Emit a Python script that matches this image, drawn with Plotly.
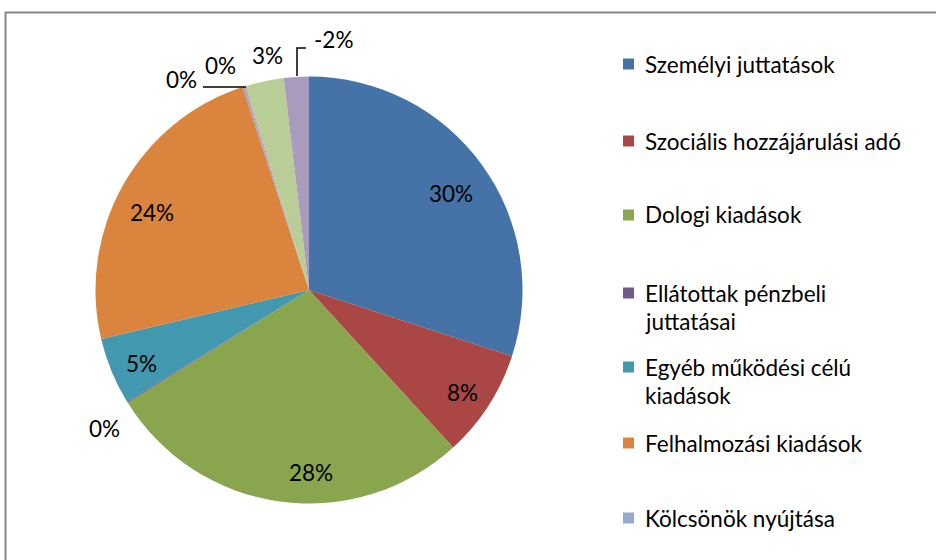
import math
import plotly.graph_objects as go

# ---------------- data ----------------
categories = [
    "Személyi juttatások",
    "Szociális hozzájárulási adó",
    "Dologi kiadások",
    "Ellátottak pénzbeli juttatásai",
    "Egyéb működési célú kiadások",
    "Felhalmozási kiadások",
    "Kölcsönök nyújtása",
    "Tartalékok",
    "Finanszírozási kiadások",
    "Függő tételek",
]
shares = [30.1, 8.2, 28.0, 0.1, 5.1, 23.7, 0.15, 0.1, 2.9, -1.9]
legend_labels = [
    "Személyi juttatások",
    "Szociális hozzájárulási adó",
    "Dologi kiadások",
    "Ellátottak pénzbeli<br>juttatásai",
    "Egyéb működési célú<br>kiadások",
    "Felhalmozási kiadások",
    "Kölcsönök nyújtása",
]

# ---------------- style ----------------
colors = ["#4572A7", "#AA4643", "#89A54E", "#71588F", "#4198AF",
          "#DB843D", "#93A9CF", "#D19392", "#B9CD96", "#A99BBD"]
W, H = 936, 560
CX, CY, R = 309, 290, 213.5
FONT = "Lato"
label_pos = [(451, 193), (462, 392), (311, 472), (104, 428), (141, 363),
             (152, 212), (181, 80), (220, 65), (267, 56), (333, 40)]
legend_y = [64, 141, 215, 293, 367, 443, 518]
line_gap = 28


def X(px):
    return px / W


def Y(py):
    return 1 - py / H


fig = go.Figure()
fig.add_trace(go.Pie(
    labels=categories,
    values=[abs(v) for v in shares],
    sort=False,
    direction="clockwise",
    rotation=0,
    marker=dict(colors=colors, line=dict(width=0)),
    textinfo="none",
    hovertemplate="%{label}: %{customdata}<extra></extra>",
    customdata=[f"{v:.0f}%" for v in shares],
    showlegend=False,
    domain=dict(x=[X(CX - R), X(CX + R)], y=[Y(CY + R), Y(CY - R)]),
))

annotations = []
for v, (px, py) in zip(shares, label_pos):
    annotations.append(dict(
        x=X(px), y=Y(py), xref="paper", yref="paper",
        text=f"{round(v):.0f}%", showarrow=False,
        xanchor="center", yanchor="middle",
        font=dict(family=FONT, size=22.5, color="#000000"),
    ))

shapes = []
for i, (lab, ly) in enumerate(zip(legend_labels, legend_y)):
    shapes.append(dict(type="rect", xref="paper", yref="paper",
                       x0=X(623), x1=X(634), y0=Y(ly + 5.5), y1=Y(ly - 5.5),
                       fillcolor=colors[i], line=dict(width=0)))
    for j, part in enumerate(lab.split("<br>")):
        annotations.append(dict(
            x=X(643), y=Y(ly + j * line_gap), xref="paper", yref="paper",
            text=part, showarrow=False, xanchor="left", yanchor="middle",
            font=dict(family=FONT, size=22.5, color="#000000"),
        ))

# leader lines for small slices
leader = dict(color="#000000", width=1.5)
shapes.append(dict(type="path", xref="paper", yref="paper",
                   path=f"M {X(246)} {Y(87)} L {X(203)} {Y(87)}", line=leader))
shapes.append(dict(type="path", xref="paper", yref="paper",
                   path=f"M {X(297)} {Y(76)} L {X(297)} {Y(48)} L {X(306)} {Y(48)}",
                   line=leader))
# chart frame (cropped at right and bottom)
frame = dict(color="#868686", width=2)
shapes.append(dict(type="line", xref="paper", yref="paper",
                   x0=X(5), x1=X(940), y0=Y(12.5), y1=Y(12.5), line=frame))
shapes.append(dict(type="line", xref="paper", yref="paper",
                   x0=X(5.5), x1=X(5.5), y0=Y(12), y1=Y(565), line=frame))

fig.update_layout(
    width=W, height=H, autosize=False,
    margin=dict(l=0, r=0, t=0, b=0),
    paper_bgcolor="#FFFFFF", plot_bgcolor="#FFFFFF",
    annotations=annotations, shapes=shapes,
    font=dict(family=FONT),
)
fig.write_html("out.html",
               config={"displayModeBar": False},
               post_script="document.body.style.margin='0px';")
